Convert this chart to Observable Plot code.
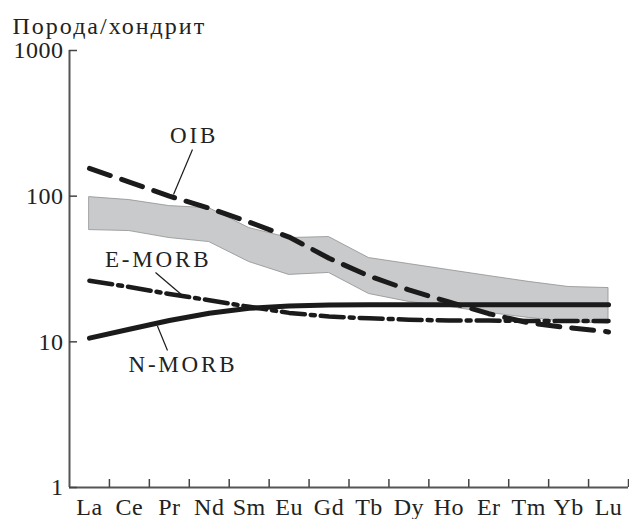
<!DOCTYPE html>
<html><head><meta charset="utf-8">
<script src="https://cdn.jsdelivr.net/npm/d3@7"></script>
<script src="https://cdn.jsdelivr.net/npm/@observablehq/plot@0.6"></script>
<style>
body{margin:0;background:#fff;}
#chart svg text{letter-spacing:0.5px;}
#chart .lab text{letter-spacing:2.8px;}
#chart .ttl text{letter-spacing:2px;}
</style></head><body><div id="chart"></div>
<script>
const elements = ["La","Ce","Pr","Nd","Sm","Eu","Gd","Tb","Dy","Ho","Er","Tm","Yb","Lu"];
const bandHigh = [98.5, 94, 85.5, 82.7, 60.4, 51.6, 52.4, 37.6, 34.2, 31.1, 28.3, 25.8, 23.8, 23.4];
const bandLow  = [58.5, 57.6, 51.6, 48.4, 35.3, 28.8, 29.7, 21.3, 18.8, 17.4, 15.8, 14.6, 13.7, 13.3];
const oib   = [155, 125, 100, 82.7, 66.4, 52.4, 37.5, 28.3, 22.7, 18.8, 15.6, 13.5, 12.5, 11.7];
const emorb = [26.3, 23.8, 21.3, 19.3, 17.4, 15.8, 14.9, 14.5, 14.2, 14.0, 14.0, 13.9, 13.9, 13.9];
const nmorb = [10.6, 12.2, 14.0, 15.7, 17.0, 17.6, 17.9, 18.0, 18.0, 18.0, 18.0, 18.0, 18.0, 18.0];
const yTicks = [1, 10, 100, 1000];
const yTitle = "Порода/хондрит";
const seriesNames = ["OIB", "E-MORB", "N-MORB"];
const labelX = [2.62, 1.72, 2.34];
const labelY = [233, 32.4, 6.16];
const leaderX1 = [2.58, 1.654, 1.70];
const leaderY1 = [209, 29.9, 12.9];
const leaderX2 = [2.105, 2.33, 1.954];
const leaderY2 = [102.6, 20.8, 8.72];

const rows = elements.map((e, i) => ({i, e, hi: bandHigh[i], lo: bandLow[i], oib: oib[i], emorb: emorb[i], nmorb: nmorb[i]}));
const labs = seriesNames.map((n, k) => ({n, x: labelX[k], y: labelY[k], x1: leaderX1[k], y1: leaderY1[k], x2: leaderX2[k], y2: leaderY2[k]}));
const idx = elements.map((e, i) => i);
const bounds = elements.map((e, i) => i + 0.5);
const ink = "#1b1b1b";
const FF = "Liberation Serif";

const chart = Plot.plot({
  width: 629, height: 519,
  marginLeft: 69, marginRight: 1, marginTop: 50, marginBottom: 32,
  style: {fontSize: "23px", color: "#222", background: "#fff"},
  x: {type: "linear", domain: [-0.5, 13.5], axis: null},
  y: {type: "log", domain: [1, 1000], axis: null},
  marks: [
    Plot.areaY(rows, {x: "i", y1: "lo", y2: "hi", fill: "#c9cacc", stroke: "#8f9092", strokeWidth: 0.8}),
    Plot.line(rows, {x: "i", y: "nmorb", stroke: ink, strokeWidth: 5}),
    Plot.line(rows, {x: "i", y: "emorb", stroke: ink, strokeWidth: 4.5, strokeDasharray: "23,6,4,6"}),
    Plot.line(rows, {x: "i", y: "oib", stroke: ink, strokeWidth: 5, strokeDasharray: "22,12"}),
    Plot.link(labs, {x1: "x1", y1: "y1", x2: "x2", y2: "y2", stroke: ink, strokeWidth: 1.2}),
    Plot.text(labs, {x: "x", y: "y", text: "n", lineAnchor: "bottom", fill: "#222", fontSize: 23, fontFamily: FF, className: "lab"}),
    Plot.ruleX([-0.5], {stroke: "#555", strokeWidth: 2}),
    Plot.ruleY([1], {stroke: "#555", strokeWidth: 2}),
    Plot.axisY({ticks: yTicks, tickSize: -8, text: null, stroke: "#444", strokeWidth: 1.5}),
    Plot.axisY({ticks: yTicks, tickSize: 0, tickPadding: 6, tickFormat: d => String(d), fill: "#222", label: null, fontFamily: FF, fontSize: 24}),
    Plot.axisX({ticks: bounds, tickSize: -8, text: null, stroke: "#444", strokeWidth: 1.5}),
    Plot.axisX({ticks: idx, tickSize: 0, tickPadding: 10, tickFormat: i => elements[i], fill: "#222", label: null, fontFamily: FF, fontSize: 24}),
    Plot.text([yTitle], {frameAnchor: "top-left", text: d => d, textAnchor: "start", lineAnchor: "bottom", dx: -57, dy: -17, fill: "#222", fontSize: 24, fontFamily: FF, className: "ttl"})
  ]
});
document.getElementById("chart").appendChild(chart);
</script>
</body></html>
